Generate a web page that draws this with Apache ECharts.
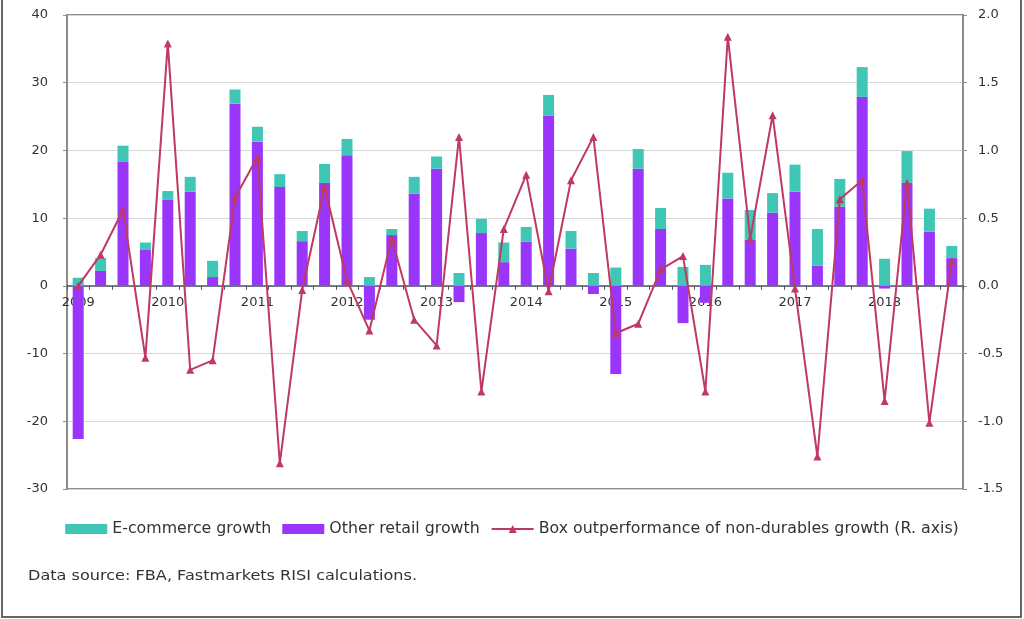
<!DOCTYPE html>
<html>
<head>
<meta charset="utf-8">
<script src="https://cdn.jsdelivr.net/npm/echarts@6/dist/echarts.min.js"></script>
<style>
  html, body { margin: 0; padding: 0; background: #fff; }
  #chart { width: 1024px; height: 619px; }
</style>
</head>
<body>
<div id="chart"></div>
<script>
// Quarterly periods, 2009 Q1 – 2018 Q4
const quarters = [
  '2009Q1','2009Q2','2009Q3','2009Q4','2010Q1','2010Q2','2010Q3','2010Q4',
  '2011Q1','2011Q2','2011Q3','2011Q4','2012Q1','2012Q2','2012Q3','2012Q4',
  '2013Q1','2013Q2','2013Q3','2013Q4','2014Q1','2014Q2','2014Q3','2014Q4',
  '2015Q1','2015Q2','2015Q3','2015Q4','2016Q1','2016Q2','2016Q3','2016Q4',
  '2017Q1','2017Q2','2017Q3','2017Q4','2018Q1','2018Q2','2018Q3','2018Q4'
];

// Other retail growth (%), left axis
const otherRetail = [
  -22.6, 2.2, 18.3, 5.3, 12.7, 13.9, 1.3, 26.9,
  21.3, 14.6, 6.6, 15.2, 19.3, -5.0, 7.5, 13.6,
  17.3, -2.4, 7.8, 3.5, 6.5, 25.1, 5.5, -1.2,
  -13.0, 17.3, 8.4, -5.5, -2.5, 12.9, 6.8, 10.8,
  13.9, 3.0, 11.7, 27.9, -0.4, 15.2, 8.0, 4.1
];

// E-commerce growth (%), stacked on top, left axis
const ecommerce = [
  1.2, 1.9, 2.4, 1.1, 1.3, 2.2, 2.4, 2.1,
  2.2, 1.9, 1.5, 2.8, 2.4, 1.3, 0.9, 2.5,
  1.8, 1.9, 2.1, 2.9, 2.2, 3.1, 2.6, 1.9,
  2.7, 2.9, 3.1, 2.8, 3.1, 3.8, 4.4, 2.9,
  4.0, 5.4, 4.1, 4.4, 4.0, 4.7, 3.4, 1.8
];

// Box outperformance of non-durables growth, right axis
const boxOutperformance = [
  0.00, 0.23, 0.56, -0.53, 1.79, -0.62, -0.55, 0.65,
  0.95, -1.31, -0.03, 0.73, 0.04, -0.33, 0.35, -0.25,
  -0.44, 1.10, -0.78, 0.42, 0.82, -0.04, 0.78, 1.10,
  -0.35, -0.28, 0.12, 0.22, -0.78, 1.84, 0.35, 1.26,
  -0.02, -1.26, 0.64, 0.78, -0.85, 0.76, -1.01, 0.18
];

const seriesNames = [
  'E-commerce growth',
  'Other retail growth',
  'Box outperformance of non-durables growth (R. axis)'
];

const FONT = 'DejaVu Sans';
const TEAL = '#3fc6b4';
const PURPLE = '#9a35fb';
const LINE = '#bf3a60';
const FRAME = '#8c8c8c';

// Plot rectangle
const GRID = { left: 67, right: 61, top: 15, bottom: 130 };
const LEFT_MIN = -30, LEFT_MAX = 40;
const plotHeight = 619 - GRID.top - GRID.bottom;
// Lift the category axis from the bottom edge up to the zero line of the left scale
const zeroLift = plotHeight * (0 - LEFT_MIN) / (LEFT_MAX - LEFT_MIN);

const chart = echarts.init(document.getElementById('chart'));

chart.setOption({
  animation: false,
  backgroundColor: '#ffffff',
  textStyle: { fontFamily: FONT },
  grid: Object.assign({
    show: true, borderColor: FRAME, borderWidth: 2,
    backgroundColor: 'transparent'
  }, GRID),
  legend: {
    data: [
      { name: seriesNames[0], icon: 'rect' },
      { name: seriesNames[1], icon: 'rect' },
      { name: seriesNames[2] }
    ],
    top: 516,
    left: 'center',
    itemWidth: 42,
    itemHeight: 10,
    itemGap: 11,
    textStyle: { fontFamily: FONT, fontSize: 15.8, color: '#333' }
  },
  xAxis: {
    type: 'category',
    data: quarters,
    boundaryGap: true,
    position: 'bottom',
    offset: -zeroLift,
    axisLine: {
      onZero: false,
      lineStyle: { color: '#4d5566', width: 1.5 }
    },
    axisTick: { show: true, interval: 0, length: 4, lineStyle: { color: '#4d5566' } },
    axisLabel: {
      interval: 0,
      margin: 10,
      fontFamily: FONT,
      fontSize: 13,
      color: '#333',
      formatter: function (v) { return v.endsWith('Q1') ? v.slice(0, 4) : ''; }
    },
    splitLine: { show: false }
  },
  yAxis: [
    {
      type: 'value',
      min: LEFT_MIN, max: LEFT_MAX, interval: 10,
      axisLine: { show: true, lineStyle: { color: FRAME, width: 2 } },
      axisTick: { show: true, length: 4, lineStyle: { color: FRAME } },
      axisLabel: { fontFamily: FONT, fontSize: 13, color: '#333', margin: 19 },
      splitLine: { show: true, lineStyle: { color: '#d6d6d6', width: 1 } }
    },
    {
      type: 'value',
      min: -1.5, max: 2.0, interval: 0.5,
      axisLine: { show: true, lineStyle: { color: FRAME, width: 2 } },
      axisTick: { show: true, length: 4, lineStyle: { color: FRAME } },
      axisLabel: {
        fontFamily: FONT, fontSize: 13, color: '#333', margin: 15,
        formatter: function (v) { return v.toFixed(1); }
      },
      splitLine: { show: false }
    }
  ],
  series: [
    {
      name: seriesNames[1],
      type: 'bar',
      stack: 'growth',
      data: otherRetail,
      barWidth: 11,
      itemStyle: { color: PURPLE }
    },
    {
      name: seriesNames[0],
      type: 'bar',
      stack: 'growth',
      data: ecommerce,
      barWidth: 11,
      itemStyle: { color: TEAL }
    },
    {
      name: seriesNames[2],
      type: 'line',
      yAxisIndex: 1,
      data: boxOutperformance,
      symbol: 'triangle',
      symbolSize: 8,
      lineStyle: { color: LINE, width: 2 },
      itemStyle: { color: LINE },
      z: 5
    }
  ],
  graphic: [
    {
      type: 'text',
      left: 28, top: 569,
      scaleX: 1.15,
      style: {
        text: 'Data source: FBA, Fastmarkets RISI calculations.',
        fontFamily: FONT, fontSize: 14, fill: '#333'
      }
    },
    {
      type: 'polyline',
      shape: { points: [[2, 0], [2, 617], [1021, 617], [1021, 0]] },
      style: { stroke: '#666', lineWidth: 2, fill: null }
    }
  ]
});
</script>
</body>
</html>
